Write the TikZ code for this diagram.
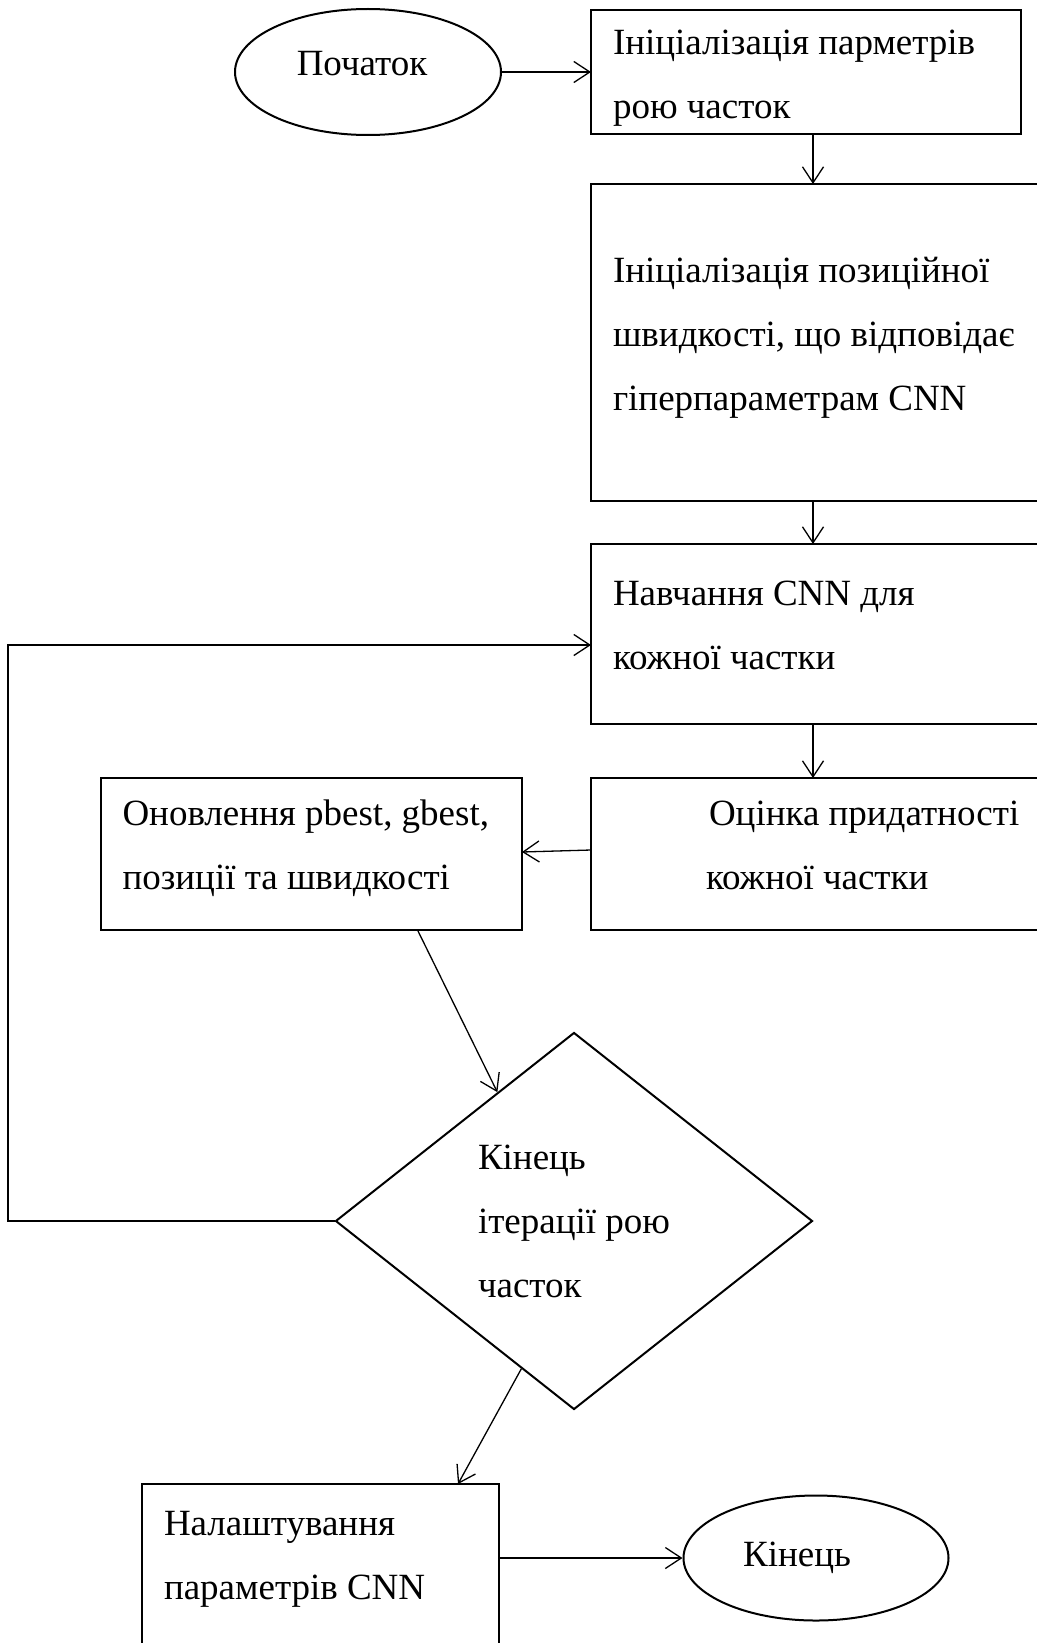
\documentclass[tikz,border=0pt]{standalone}
\usepackage{fontspec}
\setmainfont{Liberation Serif}
\usetikzlibrary{shapes.geometric}
\usetikzlibrary{arrows.meta}
\usetikzlibrary{calc}
\newcommand\chartfont{\fontsize{37}{64}\selectfont}

\begin{document}
\begin{tikzpicture}[x=1pt,y=-1pt,
    every node/.style={font=\chartfont,execute at begin node={\spaceskip=9.2pt plus 2pt minus 1pt\relax}},
    stepbox/.style={draw,rectangle,line width=2.2pt,outer sep=0pt,anchor=north west,align=left,inner xsep=22pt,inner ysep=0pt},
    terminal/.style={draw,ellipse,line width=2pt,inner sep=0pt},
    decision/.style={draw,diamond,line width=2pt,align=left,inner sep=0pt},
    flow/.style={line width=1.3pt,-{Straight Barb[length=16pt,width=21pt]}}]
    \useasboundingbox (0,0) rectangle (1036,1643);
    \coordinate (spine) at (813,0);
    \coordinate (loop) at (8,0);
    \node[terminal,minimum width=266pt,minimum height=126pt,text height=25pt,text depth=17pt] (start) at (368,72) {Початок\kern12pt};
    \node[stepbox,text width=386pt,text height=45pt,text depth=79pt] (init) at (591,10) {Ініціалізація парметрів\\рою часток};
    \node[stepbox,text width=425pt,text height=98pt,text depth=219pt] (velocity) at (591,184) {Ініціалізація позиційної\\швидкості, що відповідає\\гіперпараметрам CNN};
    \node[stepbox,text width=425pt,text height=61pt,text depth=119pt] (train) at (591,544) {Навчання CNN для\\кожної частки};
    \node[stepbox,text width=425pt,text height=47pt,text depth=105pt] (fitness) at (591,778) {\hspace*{96pt}Оцінка придатності\\\hspace*{93pt}кожної частки};
    \node[stepbox,inner xsep=21.5pt,text width=378pt,text height=47pt,text depth=105pt] (update) at (101,778) {Оновлення pbest, gbest,\\позиції та швидкості};
    \node[decision,minimum width=477pt,minimum height=377pt] (stop) at (574,1221) {Кінець\\ітерації рою\\часток};
    \node[stepbox,text width=313pt,text height=51pt,text depth=180pt] (tune) at (142,1484) {Налаштування\\параметрів CNN};
    \node[terminal,minimum width=265pt,minimum height=125pt] (finish) at (816,1558) {Кінець\kern38pt};
    \draw[flow] (start.east) -- (init.west);
    \draw[flow] (init.south -| spine) -- (velocity.north -| spine);
    \draw[flow] (velocity.south -| spine) -- (train.north -| spine);
    \draw[flow] (train.south -| spine) -- (fitness.north -| spine);
    \draw[flow] ([yshift=4pt]fitness.west) -- ([yshift=2pt]update.east);
    \draw[flow] ([xshift=106pt]update.south) -- ($(stop.north)!0.32!(stop.west)$);
    \draw[flow] (stop.west) -- (stop.west -| loop) |- ([yshift=-11pt]train.west);
    \draw[flow] ($(stop.west)!0.78!(stop.south)$) -- ([xshift=-41pt]tune.north east);
    \draw[flow] (finish.west -| tune.east) -- (finish.west);
\end{tikzpicture}
\end{document}
